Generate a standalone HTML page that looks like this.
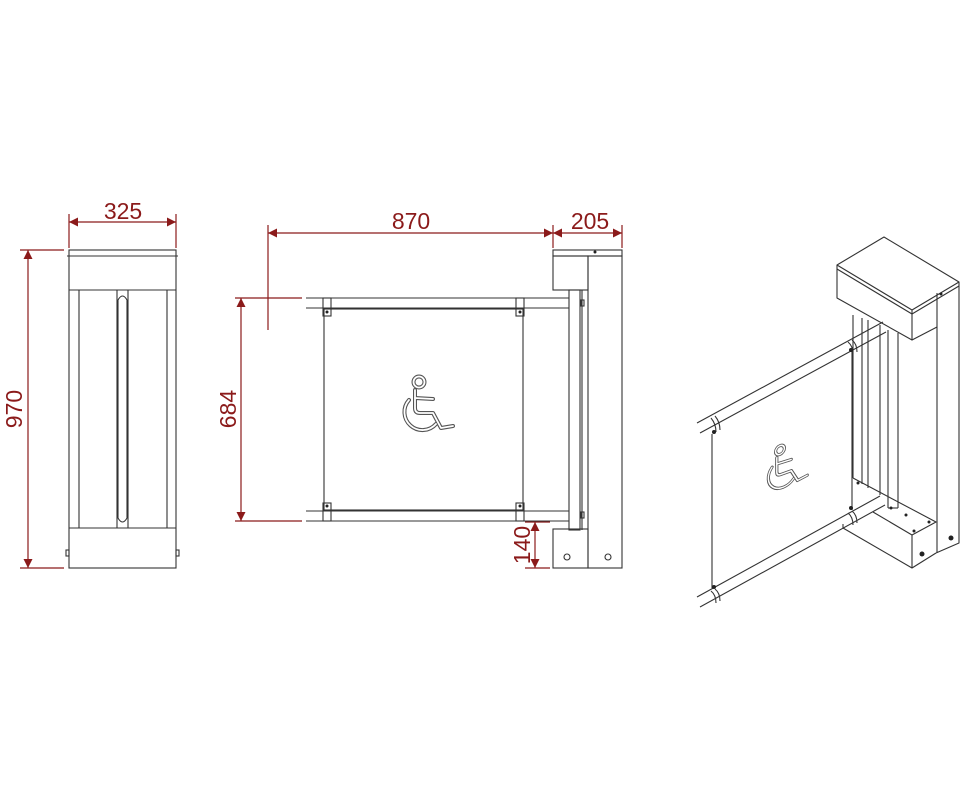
<!DOCTYPE html>
<html><head><meta charset="utf-8"><style>
html,body{margin:0;padding:0;background:#fff;}
svg{display:block;}
text{font-family:"Liberation Sans",sans-serif;fill:#8b1a1a;font-size:23px;}
</style></head><body>
<svg width="969" height="800" viewBox="0 0 969 800" xmlns="http://www.w3.org/2000/svg">
<defs>
<marker id="a" viewBox="0 0 10 10" refX="10" refY="5" markerWidth="14" markerHeight="9" orient="auto-start-reverse" markerUnits="userSpaceOnUse"><path d="M0,0 L10,5 L0,10 z" fill="#8b1a1a"/></marker>
<g id="wc" fill="none" stroke-linecap="round" stroke-linejoin="round">
<circle cx="0" cy="0" r="5.5"/>
<path d="M-4,8 L-4,26 Q-4,31 1,31 L14,31 L22,46 L34,44"/>
<path d="M-4,16 L14,17"/>
<path d="M-10,18 A17,17 0 1 0 17,42"/>
</g>
</defs>
<g stroke="#8b1a1a" stroke-width="1.2" fill="none">
<line x1="69" y1="214" x2="69" y2="248"/><line x1="176" y1="214" x2="176" y2="248"/>
<line x1="69" y1="222" x2="176" y2="222" marker-start="url(#a)" marker-end="url(#a)"/>
<line x1="20" y1="250" x2="64" y2="250"/><line x1="20" y1="568" x2="64" y2="568"/>
<line x1="28" y1="250" x2="28" y2="568" marker-start="url(#a)" marker-end="url(#a)"/>
<line x1="268" y1="225" x2="268" y2="330"/><line x1="553" y1="225" x2="553" y2="248"/><line x1="622" y1="225" x2="622" y2="248"/>
<line x1="268" y1="233" x2="553" y2="233" marker-start="url(#a)" marker-end="url(#a)"/>
<line x1="553" y1="233" x2="622" y2="233" marker-start="url(#a)" marker-end="url(#a)"/>
<line x1="235" y1="298" x2="302" y2="298"/><line x1="235" y1="521" x2="302" y2="521"/>
<line x1="241" y1="298" x2="241" y2="521" marker-start="url(#a)" marker-end="url(#a)"/>
<line x1="525" y1="522" x2="550" y2="522"/><line x1="525" y1="568" x2="550" y2="568"/>
<line x1="535" y1="522" x2="535" y2="568" marker-start="url(#a)" marker-end="url(#a)"/>
</g>
<text x="123" y="219" text-anchor="middle">325</text>
<text x="411" y="229" text-anchor="middle">870</text>
<text x="590" y="229" text-anchor="middle">205</text>
<text transform="translate(22,409) rotate(-90)" text-anchor="middle">970</text>
<text transform="translate(236,409) rotate(-90)" text-anchor="middle">684</text>
<text transform="translate(530,545) rotate(-90)" text-anchor="middle">140</text>

<g stroke="#333" stroke-width="1.1" fill="none">
<rect x="69" y="250" width="107" height="318"/>
<line x1="67" y1="256" x2="178" y2="256"/>
<line x1="69" y1="290" x2="176" y2="290"/>
<line x1="69" y1="528" x2="176" y2="528"/>
<line x1="79" y1="290" x2="79" y2="528"/><line x1="167" y1="290" x2="167" y2="528"/>
<line x1="117" y1="290" x2="117" y2="528"/><line x1="128" y1="290" x2="128" y2="528"/>
<path d="M118,300 Q122.5,292 127,300 L127,518 Q122.5,526 118,518 Z"/>
<rect x="66" y="550" width="3" height="6"/><rect x="176" y="550" width="3" height="6"/>
</g>

<g stroke="#333" stroke-width="1.1" fill="none">
<rect x="553" y="250" width="69" height="6"/>
<rect x="553" y="256" width="35" height="34"/>
<rect x="588" y="256" width="34" height="312"/>
<rect x="569" y="290" width="11" height="240"/>
<line x1="582" y1="290" x2="582" y2="530"/>
<rect x="553" y="529" width="35" height="39"/>
<circle cx="567" cy="557" r="3"/><circle cx="608" cy="557" r="3"/>
<line x1="306" y1="298" x2="569" y2="298"/><line x1="306" y1="308" x2="569" y2="308"/>
<line x1="306" y1="511" x2="569" y2="511"/><line x1="306" y1="521" x2="569" y2="521"/>
<rect x="324" y="309" width="199" height="201"/>
<rect x="323" y="298" width="8" height="18"/><rect x="516" y="298" width="8" height="18"/>
<rect x="323" y="503" width="8" height="18"/><rect x="516" y="503" width="8" height="18"/>
<rect x="581" y="300" width="3" height="6"/><rect x="581" y="512" width="3" height="6"/>
</g>
<g fill="#222"><circle cx="327" cy="312" r="1.5"/><circle cx="520" cy="312" r="1.5"/><circle cx="327" cy="506" r="1.5"/><circle cx="520" cy="506" r="1.5"/><circle cx="595" cy="252" r="1.5"/></g>
<g transform="translate(419,382)"><use href="#wc" stroke="#555" stroke-width="4"/><use href="#wc" stroke="#fff" stroke-width="1.8"/></g>

<!-- iso view -->
<g stroke="#333" stroke-width="1.1" fill="none" stroke-linejoin="round">
<path d="M837,265 L884,237 L959,282 L912,310 Z"/>
<path d="M837,269 L912,314 L959,286"/>
<path d="M837,265 L837,298 L912,340 L912,310"/>
<path d="M912,340 L937,327"/>
<path d="M959,282 L959,543 L936,553"/>
<line x1="937" y1="293" x2="937" y2="553"/>
<!-- columns -->
<line x1="853" y1="315" x2="853" y2="478"/>
<line x1="862" y1="318" x2="862" y2="484"/>
<line x1="868" y1="320" x2="868" y2="488"/>
<line x1="880" y1="325" x2="880" y2="495"/>
<line x1="888" y1="330" x2="888" y2="508"/>
<line x1="898" y1="333" x2="898" y2="508"/>
<line x1="888" y1="508" x2="898" y2="508"/>
<!-- base block -->
<path d="M853,478 L936,522 L912,535 L873,512"/>
<path d="M912,535 L912,568 L843,528 L843,524"/>
<path d="M912,568 L936,553"/>
<!-- rails -->
<line x1="697" y1="423" x2="883" y2="322"/>
<line x1="700" y1="433" x2="886" y2="332"/>
<line x1="697" y1="597" x2="880" y2="496"/>
<line x1="700" y1="607" x2="885" y2="505"/>
<line x1="712" y1="434" x2="712" y2="588"/>
<line x1="852" y1="347" x2="852" y2="510"/>
<path d="M711,418 Q716,424 716,432"/><path d="M715,416 Q720,422 720,430"/>
<path d="M848,342 Q853,346 853,354"/><path d="M852,340 Q857,344 857,352"/>
<path d="M848,513 Q853,517 853,525"/><path d="M852,511 Q857,515 857,523"/>
<path d="M711,591 Q716,595 716,603"/><path d="M715,589 Q720,593 720,601"/>
</g>
<g fill="#222"><circle cx="714" cy="432" r="2"/><circle cx="851" cy="350" r="2"/><circle cx="851" cy="508" r="2"/><circle cx="714" cy="587" r="2"/><circle cx="858" cy="483" r="1.5"/><circle cx="906" cy="515" r="1.5"/><circle cx="891" cy="508" r="1.5"/><circle cx="929" cy="522" r="1.5"/><circle cx="914" cy="531" r="1.5"/><circle cx="922" cy="554" r="2.5"/><circle cx="951" cy="538" r="2.5"/><circle cx="941" cy="294" r="1.5"/></g>
<g transform="translate(780,450) skewY(-20) scale(0.8)"><use href="#wc" stroke="#555" stroke-width="4"/><use href="#wc" stroke="#fff" stroke-width="1.8"/></g>
</svg>
</body></html>
